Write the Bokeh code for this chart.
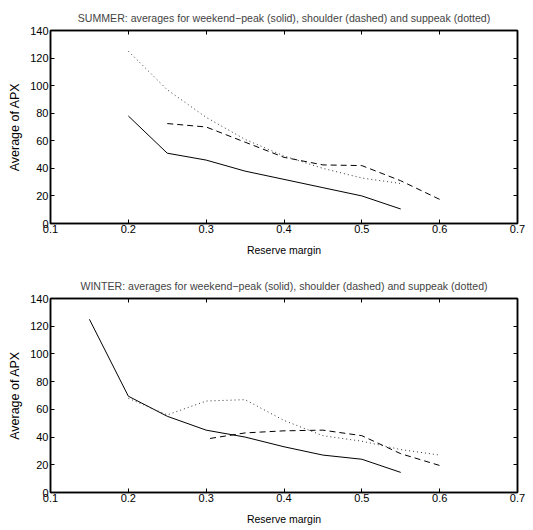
from bokeh.plotting import figure
from bokeh.layouts import column
from bokeh.models import Range1d, FixedTicker, LinearAxis
from bokeh.embed import file_html
from bokeh.resources import INLINE

x_ticks = [0.1, 0.2, 0.3, 0.4, 0.5, 0.6, 0.7]
y_ticks = [0, 20, 40, 60, 80, 100, 120, 140]

summer_title = "SUMMER: averages for weekend\u2212peak (solid), shoulder (dashed) and suppeak (dotted)"
winter_title = "WINTER: averages for weekend\u2212peak (solid), shoulder (dashed) and suppeak (dotted)"

summer_peak_x = [0.2, 0.25, 0.3, 0.35, 0.4, 0.45, 0.5, 0.55]
summer_peak_y = [78, 51, 46, 38, 32, 26, 20, 10.5]
summer_shoulder_x = [0.25, 0.3, 0.35, 0.4, 0.45, 0.5, 0.55, 0.6]
summer_shoulder_y = [72.5, 70, 59, 48, 42.5, 42, 31, 17.5]
summer_offpeak_x = [0.2, 0.25, 0.3, 0.35, 0.4, 0.45, 0.5, 0.55]
summer_offpeak_y = [125, 97, 77, 61, 49, 40, 33, 29]

winter_peak_x = [0.15, 0.2, 0.25, 0.3, 0.35, 0.4, 0.45, 0.5, 0.55]
winter_peak_y = [125, 69.5, 55, 45, 40, 33, 27, 24, 14.5]
winter_shoulder_x = [0.305, 0.35, 0.4, 0.45, 0.5, 0.55, 0.6]
winter_shoulder_y = [39, 43, 44.5, 45, 41, 28, 19.5]
winter_offpeak_x = [0.2, 0.25, 0.3, 0.35, 0.4, 0.45, 0.5, 0.55, 0.6]
winter_offpeak_y = [68, 56, 66, 67, 52, 41, 37, 31, 27]

FONT = "Liberation Sans"


def make_fig(title, top, bottom, series):
    p = figure(width=533, height=265, output_backend="svg", toolbar_location=None,
               x_range=Range1d(x_ticks[0], x_ticks[-1]), y_range=Range1d(y_ticks[0], y_ticks[-1]),
               min_border_left=50, min_border_right=16,
               min_border_top=top, min_border_bottom=bottom,
               x_axis_label="Reserve margin", y_axis_label="Average of APX")
    p.title.text = title
    p.title.align = "center"
    p.title.text_font = FONT
    p.title.text_font_size = "10.6px"
    p.title.text_font_style = "normal"
    p.title.offset = 0
    p.title.standoff = 13
    p.grid.visible = False
    p.outline_line_color = "black"
    p.outline_line_width = 1.5
    for ax in p.axis:
        ax.major_tick_in = 4
        ax.major_tick_out = 0
        ax.minor_tick_line_color = None
        ax.axis_line_color = "black"
        ax.axis_line_width = 1.5
        ax.major_label_text_font = FONT
        ax.major_label_text_font_size = "11px"
        ax.major_label_text_color = "black"
        ax.axis_label_text_font = FONT
        ax.axis_label_text_font_style = "normal"
        ax.axis_label_text_color = "black"
    p.xaxis.axis_label_text_font_size = "10.5px"
    p.yaxis.axis_label_text_font_size = "12.5px"
    p.xaxis.ticker = FixedTicker(ticks=x_ticks)
    p.yaxis.ticker = FixedTicker(ticks=y_ticks)
    p.xaxis.major_label_standoff = 1
    p.yaxis.major_label_standoff = 2
    p.xaxis.axis_label_standoff = 8
    p.yaxis.axis_label_standoff = 5
    # mirrored inward ticks on the right and top edges, without labels
    for loc, tk in (("right", y_ticks), ("above", x_ticks)):
        ax = LinearAxis(ticker=FixedTicker(ticks=tk), major_tick_in=4, major_tick_out=0,
                        minor_tick_line_color=None, major_label_text_font_size="1px",
                        major_label_text_color=None, axis_line_color="black",
                        axis_line_width=1.5, major_label_standoff=0)
        p.add_layout(ax, loc)
    (px, py), (sx, sy), (ox, oy) = series
    p.line(px, py, line_color="black", line_width=1)
    p.line(sx, sy, line_color="black", line_width=1, line_dash="6 4")
    p.line(ox, oy, line_color="#333333", line_width=1, line_dash="1 3")
    return p


p1 = make_fig(summer_title, 30, 42,
              [(summer_peak_x, summer_peak_y), (summer_shoulder_x, summer_shoulder_y),
               (summer_offpeak_x, summer_offpeak_y)])
p2 = make_fig(winter_title, 33, 38,
              [(winter_peak_x, winter_peak_y), (winter_shoulder_x, winter_shoulder_y),
               (winter_offpeak_x, winter_offpeak_y)])

p = column(p1, p2)
open("out.html", "w").write(file_html(p, INLINE))
